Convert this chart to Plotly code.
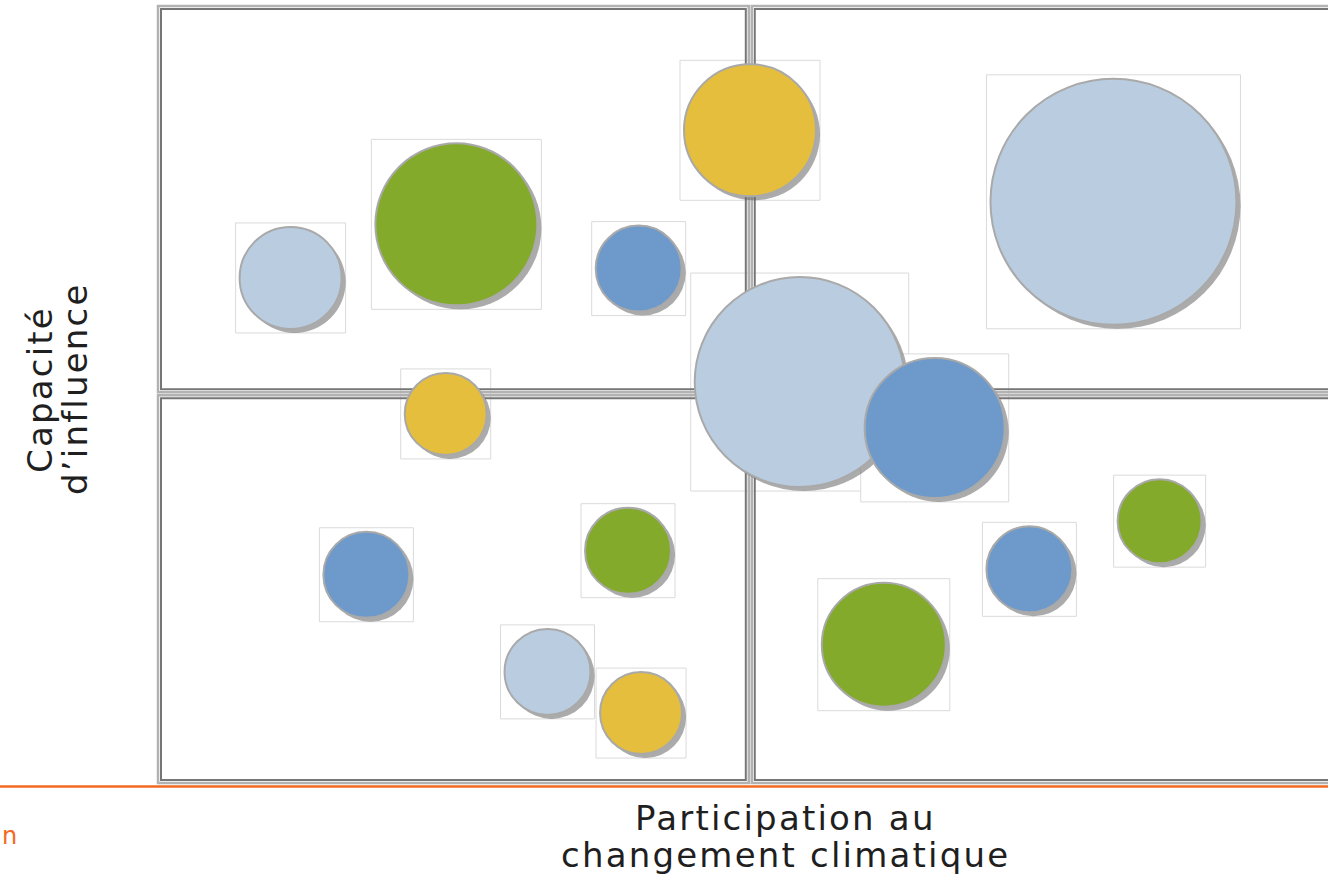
import plotly.graph_objects as go

# ---- data ----
participation = [1.12, 2.52, 4.06, 5.00, 8.07, 5.42, 6.56, 2.43, 1.76, 3.97, 3.29, 4.08, 6.13, 7.36, 8.46]
influence     = [6.50, 7.19, 6.62, 8.40, 7.48, 5.16, 4.57, 4.75, 2.68, 2.99, 1.43, 0.90, 1.78, 2.75, 3.37]
bubble_size   = [102, 162, 86, 132, 246, 210, 140, 82, 86, 86, 86, 82, 124, 86, 84]
group         = ["clair", "vert", "bleu", "jaune", "clair", "clair", "bleu", "jaune",
                 "bleu", "vert", "clair", "jaune", "vert", "bleu", "vert"]

palette = {"clair": "#b9cce0", "bleu": "#6e9acb", "vert": "#84aa2c", "jaune": "#e4be3c"}

x_title_lines = ["Participation au", "changement climatique"]
y_title_lines = ["Capacité", "d’influence"]

# ---- layout geometry ----
W, H = 1328, 880
ML, MT, MB = 150, 0, 90
PW, PH = W - ML, H - MT - MB
XR = [-0.0676, 9.882]
YR = [-0.090, 10.077]
pxx = PW / (XR[1] - XR[0])
pxy = PH / (YR[1] - YR[0])

fig = go.Figure()

# faint picture frames behind each bubble
shapes = []
for xv, yv, s in zip(participation, influence, bubble_size):
    hx = (s / 2 + 4) / pxx
    hy = (s / 2 + 4) / pxy
    shapes.append(dict(type="rect", xref="x", yref="y", x0=xv - hx, x1=xv + hx,
                       y0=yv - hy, y1=yv + hy, line=dict(color="#dadada", width=1),
                       fillcolor="white", layer="below"))

# quadrant frames (double lines)
quads = [(0.0, 4.99, 5.03, 10.0), (5.015, 10.3, 5.03, 10.0),
         (0.0, 4.99, 0.0, 4.99), (5.015, 10.3, 0.0, 4.99)]
dx, dy = 3 / pxx, 3 / pxy
for x0, x1, y0, y1 in quads:
    shapes.append(dict(type="rect", xref="x", yref="y", x0=x0, x1=x1, y0=y0, y1=y1,
                       line=dict(color="#b2b2b2", width=2.5), layer="below"))
    shapes.append(dict(type="rect", xref="x", yref="y", x0=x0 + dx, x1=x1 - dx,
                       y0=y0 + dy, y1=y1 - dy, line=dict(color="#767676", width=2),
                       layer="below"))

# orange rule
shapes.append(dict(type="line", xref="paper", yref="paper", x0=-ML / PW, x1=1,
                   y0=3.5 / PH, y1=3.5 / PH, line=dict(color="#f26a21", width=2.5)))

# shadows
fig.add_trace(go.Scatter(
    x=[v + 4 / pxx for v in participation],
    y=[v - 4 / pxy for v in influence],
    mode="markers", hoverinfo="skip",
    marker=dict(size=bubble_size, sizemode="diameter", color="rgba(95,95,95,0.75)",
                line=dict(width=0)),
))
# bubbles
fig.add_trace(go.Scatter(
    x=participation, y=influence, mode="markers",
    marker=dict(size=bubble_size, sizemode="diameter",
                color=[palette[g] for g in group], opacity=1,
                line=dict(color="#a9a9a9", width=2)),
))

font = "DejaVu Sans, Noto Sans, sans-serif"
tfont = dict(family=font, size=34, color="#1f1f1f")


def spaced(t):
    return '<span style="letter-spacing:2.2px">' + t + '</span>'


annotations = []
# x title, one annotation per line (baselines ~828 and ~865 px)
for i, line in enumerate(x_title_lines):
    cy = 818 + 37 * i
    annotations.append(dict(text=spaced(line), xref="paper", yref="paper", x=(785 - ML) / PW,
                            y=(PH - cy) / PH, showarrow=False, font=tfont,
                            xanchor="center", yanchor="middle"))
# y title, rotated, one annotation per line
for i, line in enumerate(y_title_lines):
    cx = 40 + 35 * i
    annotations.append(dict(text=spaced(line), xref="paper", yref="paper", x=(cx - ML) / PW,
                            y=(PH - 389) / PH, showarrow=False, textangle=-90, font=tfont,
                            xanchor="center", yanchor="middle"))
annotations.append(dict(text="n", xref="paper", yref="paper", x=(0 - ML) / PW,
                        y=(PH - 836) / PH, showarrow=False,
                        font=dict(family=font, size=24, color="#f26a21"),
                        xanchor="left", yanchor="middle"))

fig.update_layout(
    width=W, height=H, margin=dict(l=ML, r=0, t=MT, b=MB),
    paper_bgcolor="white", plot_bgcolor="white", showlegend=False,
    xaxis=dict(range=XR, visible=False, fixedrange=True),
    yaxis=dict(range=YR, visible=False, fixedrange=True),
    shapes=shapes, annotations=annotations,
)

fig.write_html("out.html", config={"displayModeBar": False},
               post_script="document.body.style.margin='0';document.body.style.overflow='hidden';")
